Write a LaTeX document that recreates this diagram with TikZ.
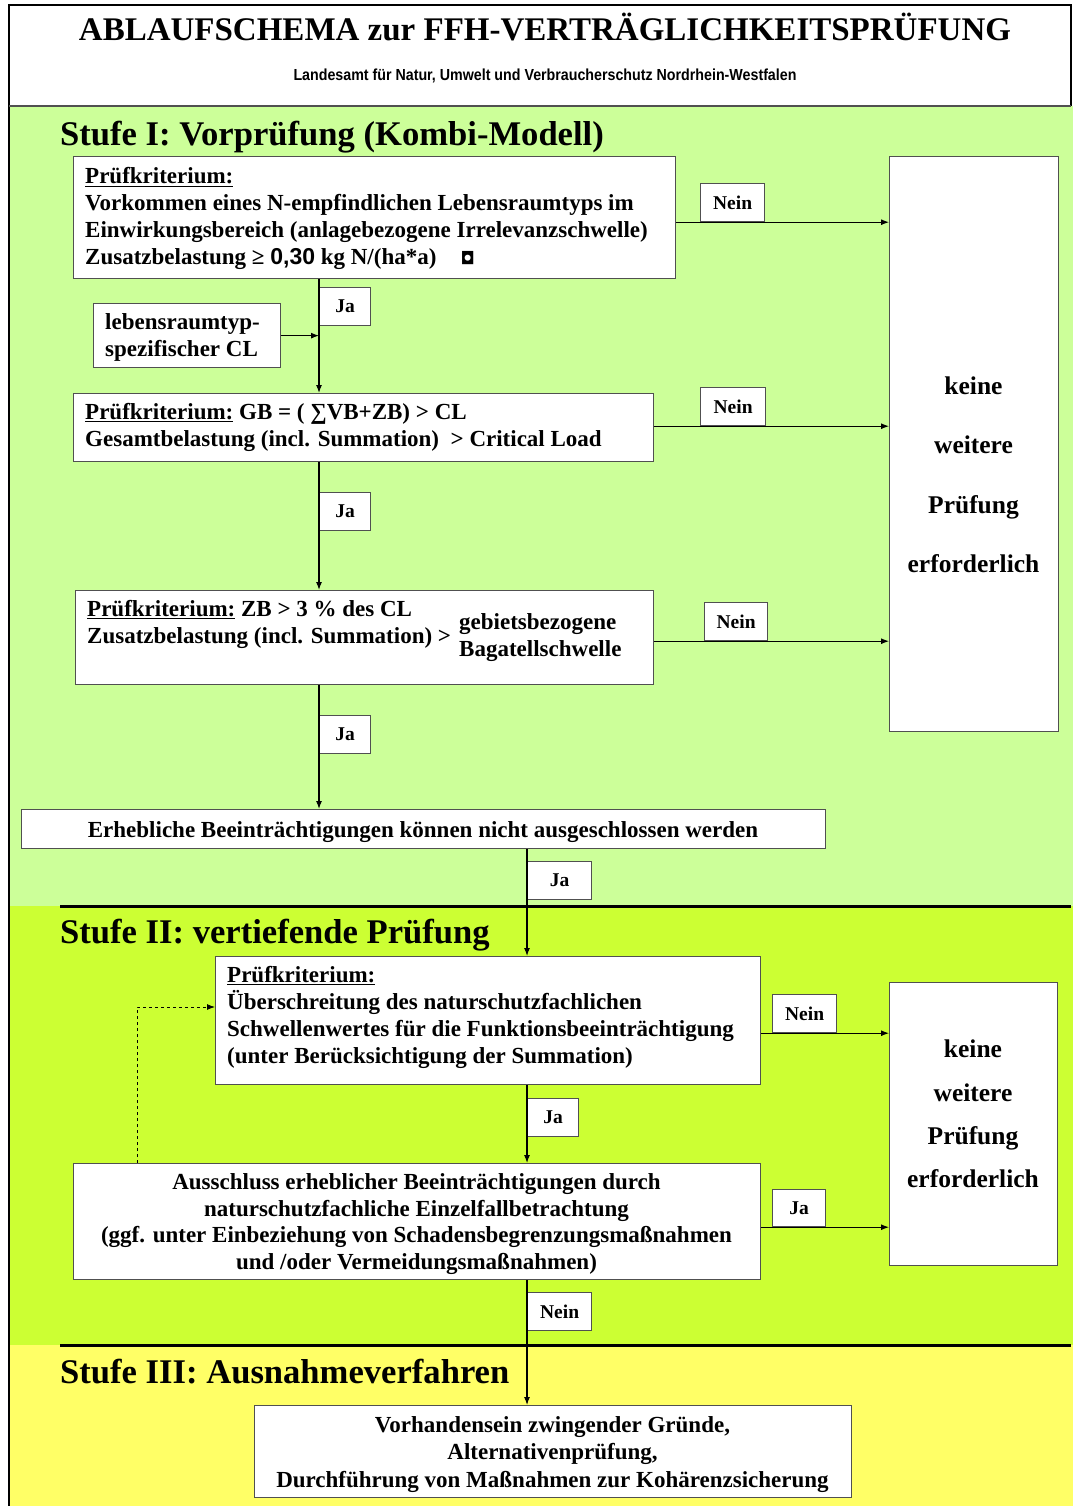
\documentclass[tikz,border=0pt]{standalone}
\usepackage{fontspec}
\setmainfont{Liberation Serif}
\setsansfont{Liberation Sans}
\newfontfamily\symfont{DejaVu Sans}
\usepackage{graphicx}
\usetikzlibrary{arrows.meta,calc}
\definecolor{stgreen}{HTML}{CCFF99}
\definecolor{styg}{HTML}{CCFF33}
\definecolor{styellow}{HTML}{FFFF66}
\definecolor{frame}{HTML}{505050}
\begin{document}
\begin{tikzpicture}[x=1pt,y=-1pt,
  box/.style={draw=frame, line width=1.3pt, fill=white, anchor=north west, inner sep=0pt},
  lbl/.style={draw=frame, line width=1.2pt, fill=white, anchor=north west, inner sep=0pt, font=\fontsize{19.5}{21}\selectfont\bfseries},
  txt/.style={anchor=base west, inner sep=0pt, align=left, font=\fontsize{23}{27}\selectfont\bfseries},
  ctxt/.style={anchor=base, inner sep=0pt, align=center, font=\fontsize{23}{26.5}\selectfont\bfseries},
  conn/.style={draw=black, line width=1.1pt},
  arr/.style={conn, -{Latex[length=8pt,width=6pt]}},
  head/.style={anchor=base west, inner sep=0pt, font=\fontsize{34.6}{36}\selectfont\bfseries},
]
\useasboundingbox (0,0) rectangle (1073,1506);
\fill[white] (0,0) rectangle (1073,1506);
\fill[stgreen] (9,106) rectangle (1073,906);
\fill[styg] (9,906) rectangle (1073,1345);
\fill[styellow] (9,1345) rectangle (1073,1506);
\draw[line width=1.2pt] (1071,106) -- (1071,5) -- (9,5) -- (9,1506);
\draw[line width=2.5pt, frame] (9,106) -- (1071,106);
\draw[line width=3pt] (60,906) -- (1071,906);
\draw[line width=3pt] (60,1345) -- (1071,1345);

% header
\node[anchor=base, inner sep=0pt, font=\fontsize{33}{36}\selectfont\bfseries] (title) at (545,41) {ABLAUFSCHEMA zur FFH-VERTRÄGLICHKEITSPRÜFUNG};
\node[anchor=base, inner sep=0pt, font=\sffamily\bfseries\fontsize{16}{18}\selectfont] (sub) at (545,81) {\scalebox{0.89}[1]{Landesamt für Natur, Umwelt und Verbraucherschutz Nordrhein-Westfalen}};

% headings
\node[head] (h1) at (60,146) {Stufe I: Vorprüfung (Kombi-Modell)};
\node[head] (h2) at (60,943) {Stufe II: vertiefende Prüfung};
\node[head] (h3) at (60,1383) {Stufe III: Ausnahmeverfahren};

\coordinate (jx) at (319,0);
\coordinate (jy) at (527,0);
\coordinate (dsh) at (137,1007);

% Stufe I boxes
\node[box, minimum width=602, minimum height=122] (b1) at (73,156) {};
\node[txt] (b1t) at (85,265) {\underline{Prüfkriterium:}\\
Vorkommen eines N-empfindlichen Lebensraumtyps im\\
Einwirkungsbereich (anlagebezogene Irrelevanzschwelle)\\
Zusatzbelastung ≥ {\sffamily 0,30} kg N/(ha*a)\hspace{24pt}{\symfont\fontsize{17}{17}\selectfont ◘}};

\node[box, minimum width=187, minimum height=64] (lr) at (93,303) {};
\node[txt, font=\fontsize{23}{26.5}\selectfont\bfseries] (lrt) at (105,356) {lebensraumtyp-\\spezifischer CL};

\node[box, minimum width=580, minimum height=68] (b2) at (73,393) {};
\node[txt] (b2t) at (85,446) {\underline{Prüfkriterium:} GB = ( ∑VB+ZB) > CL\\
Gesamtbelastung (incl. Summation)\ \ > Critical Load};

\node[box, minimum width=578, minimum height=94] (b3) at (75,590) {};
\node[txt] (b3t) at (87,643) {\underline{Prüfkriterium:} ZB > 3 \% des CL\\
Zusatzbelastung (incl. Summation) >};
\node[txt] (b3r) at (459,656) {gebietsbezogene\\Bagatellschwelle};

\node[box, minimum width=804, minimum height=39] (b4) at (21,809) {};
\node[ctxt] (b4t) at (423,837) {Erhebliche Beeinträchtigungen können nicht ausgeschlossen werden};

\node[box, minimum width=169, minimum height=575] (kw1) at (889,156) {};
\node[inner sep=0pt, align=center, font=\fontsize{25.5}{59.5}\selectfont\bfseries] (kw1t) at (973.5,475) {keine\\weitere\\Prüfung\\erforderlich};

% labels Stufe I
\node[lbl, minimum width=64, minimum height=38] (n1) at (700,183) {Nein};
\node[lbl, minimum width=65, minimum height=38] (n2) at (700,387) {Nein};
\node[lbl, minimum width=63, minimum height=38] (n3) at (704,602) {Nein};
\node[lbl, minimum width=51, minimum height=38] (j1) at (319,287) {Ja};
\node[lbl, minimum width=51, minimum height=38] (j2) at (319,492) {Ja};
\node[lbl, minimum width=51, minimum height=38] (j3) at (319,715) {Ja};
\node[lbl, minimum width=64, minimum height=38] (j4) at (527,861) {Ja};

% Stufe II boxes
\node[box, minimum width=545, minimum height=128] (b5) at (215,956) {};
\node[txt, font=\fontsize{23}{26.7}\selectfont\bfseries] (b5t) at (227,1063) {\underline{Prüfkriterium:}\\
Überschreitung des naturschutzfachlichen\\
Schwellenwertes für die Funktionsbeeinträchtigung\\
(unter Berücksichtigung der Summation)};

\node[box, minimum width=687, minimum height=116] (b6) at (73,1163) {};
\node[ctxt] (b6t) at (416.5,1269) {Ausschluss erheblicher Beeinträchtigungen durch\\
naturschutzfachliche Einzelfallbetrachtung\\
(ggf. unter Einbeziehung von Schadensbegrenzungsmaßnahmen\\
und /oder Vermeidungsmaßnahmen)};

\node[box, minimum width=168, minimum height=283] (kw2) at (889,982) {};
\node[inner sep=0pt, align=center, font=\fontsize{25.5}{43.3}\selectfont\bfseries] (kw2t) at (973,1114) {keine\\weitere\\Prüfung\\erforderlich};

\node[lbl, minimum width=64, minimum height=38] (n5) at (772,994) {Nein};
\node[lbl, minimum width=51, minimum height=38] (j5) at (527,1098) {Ja};
\node[lbl, minimum width=53, minimum height=37] (j6) at (772,1189) {Ja};
\node[lbl, minimum width=64, minimum height=38] (n6) at (527,1292) {Nein};

% Stufe III
\node[box, minimum width=597, minimum height=92] (b7) at (254,1405) {};
\node[ctxt, font=\fontsize{23}{27.5}\selectfont\bfseries] (b7t) at (552.5,1487) {Vorhandensein zwingender Gründe,\\
Alternativenprüfung,\\
Durchführung von Maßnahmen zur Kohärenzsicherung};

% connectors
\draw[arr] (b1.east |- n1.south) -- (kw1.west |- n1.south);
\draw[arr] (b2.east |- n2.south) -- (kw1.west |- n2.south);
\draw[arr] (b3.east |- n3.south) -- (kw1.west |- n3.south);
\draw[arr] (b1.south -| jx) -- (b2.north -| jx);
\draw[arr] (lr.east) -- (lr.east -| jx);
\draw[arr] (b2.south -| jx) -- (b3.north -| jx);
\draw[arr] (b3.south -| jx) -- (b4.north -| jx);
\draw[arr] (b4.south -| jy) -- (b5.north -| jy);
\draw[arr] (b5.east |- n5.south) -- (kw2.west |- n5.south);
\draw[arr] (b5.south -| jy) -- (b6.north -| jy);
\draw[arr] (b6.east |- j6.south) -- (kw2.west |- j6.south);
\draw[arr] (b6.south -| jy) -- (b7.north -| jy);
\draw[arr, dashed, line width=0.9pt] (b6.north -| dsh) -- (dsh) -- (b5.west |- dsh);
\end{tikzpicture}
\end{document}
